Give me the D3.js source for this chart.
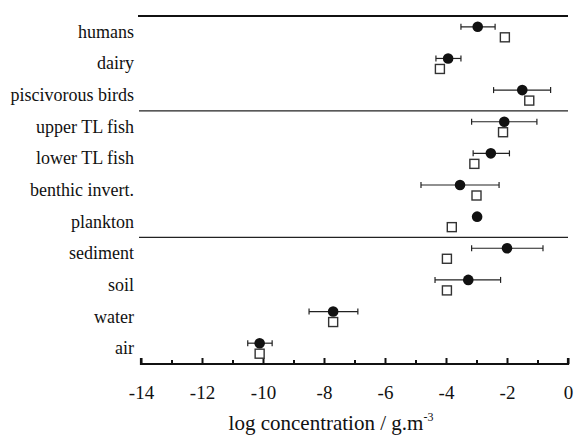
<!DOCTYPE html>
<html>
<head>
<meta charset="utf-8">
<script src="https://cdn.jsdelivr.net/npm/d3@7"></script>
<style>
  body { margin: 0; background: #fff; }
  svg text { font-family: "Liberation Serif", "Times New Roman", serif; fill: #111; }
</style>
</head>
<body>
<div id="chart"></div>
<script>
(function () {
  // rows from top to bottom
  let categories = ['humans', 'dairy', 'piscivorous birds', 'upper TL fish', 'lower TL fish',
    'benthic invert.', 'plankton', 'sediment', 'soil', 'water', 'air'];
  // measured (filled circles) with range
  let measured = [-2.96, -3.93, -1.5, -2.09, -2.53, -3.54, -2.98, -2.0, -3.27, -7.7, -10.11];
  let lowVals = [-3.51, -4.33, -2.44, -3.16, -3.11, -4.82, null, -3.16, -4.36, -8.49, -10.5];
  let highVals = [-2.39, -3.51, -0.57, -1.02, -1.92, -2.26, null, -0.82, -2.21, -6.89, -9.7];
  // modelled (open squares)
  let modelled = [-2.07, -4.2, -1.27, -2.13, -3.07, -3.0, -3.81, -3.97, -3.97, -7.7, -10.11];
  // separators after these rows
  let groupBreaks = ['piscivorous birds', 'plankton'];
  let majorTicks = d3.range(-14, 1, 2);
  let minorTicks = d3.range(-13, 0, 2);

  let width = 575,
    height = 435;

  let svg = d3.select('#chart').append('svg')
    .attr('width', width)
    .attr('height', height);

  let xScale = d3.scaleLinear()
    .domain([-14, 0])
    .range([141, 568]);

  let yScale = d3.scaleBand()
    .domain(categories)
    .range([16, 364]);

  let rows = categories.map((c, i) => ({
    name: c, mean: measured[i], lo: lowVals[i], hi: highVals[i], model: modelled[i]
  }));

  // top line
  svg.append('line')
    .attr('x1', 138).attr('x2', 568)
    .attr('y1', 16).attr('y2', 16)
    .attr('stroke', '#111').attr('stroke-width', 1.8);

  // group separators
  svg.append('g').selectAll('line.sep')
    .data(groupBreaks).enter()
    .append('line')
    .attr('class', 'sep')
    .attr('x1', 139).attr('x2', 568)
    .attr('y1', (d) => yScale(d) + yScale.bandwidth())
    .attr('y2', (d) => yScale(d) + yScale.bandwidth())
    .attr('stroke', '#222').attr('stroke-width', 1.3);

  // category labels
  svg.append('g').selectAll('text.ylabel')
    .data(categories).enter()
    .append('text')
    .attr('class', 'ylabel')
    .attr('x', 134)
    .attr('y', (d) => yScale(d) + yScale.bandwidth() / 2 + 6)
    .attr('text-anchor', 'end')
    .style('font-size', '18px')
    .text((d) => d);

  // x axis
  let minorAxis = d3.axisBottom(xScale)
    .tickValues(minorTicks)
    .tickSize(-4)
    .tickFormat('');
  let majorAxis = d3.axisBottom(xScale)
    .tickValues(majorTicks)
    .tickSize(-6)
    .tickPadding(22)
    .tickFormat((d) => String(d));

  let gMinor = svg.append('g')
    .attr('transform', 'translate(0,364)')
    .call(minorAxis);
  gMinor.select('.domain').remove();
  gMinor.selectAll('line').attr('stroke', '#111').attr('stroke-width', 2);

  let gMajor = svg.append('g')
    .attr('transform', 'translate(0,364)')
    .call(majorAxis);
  gMajor.select('.domain')
    .attr('d', 'M' + xScale(-14) + ',-6V0H' + xScale(0) + 'V-6')
    .attr('stroke', '#111').attr('stroke-width', 2.2);
  gMajor.selectAll('line').attr('stroke', '#111').attr('stroke-width', 2);
  gMajor.selectAll('text')
    .attr('font-family', null)
    .style('font-size', '19px')
    .attr('fill', '#111');

  // axis title
  let title = svg.append('text')
    .attr('x', 331)
    .attr('y', 430)
    .attr('text-anchor', 'middle')
    .style('font-size', '21px');
  title.append('tspan').text('log concentration / g.m');
  title.append('tspan')
    .attr('dy', -9)
    .style('font-size', '12px')
    .text('-3');

  // error bars
  let withRange = rows.filter((d) => d.lo !== null);
  let eb = svg.append('g').selectAll('g.err')
    .data(withRange).enter()
    .append('g')
    .attr('class', 'err')
    .attr('stroke', '#222')
    .attr('stroke-width', 1.2);
  eb.append('line')
    .attr('x1', (d) => xScale(d.lo)).attr('x2', (d) => xScale(d.hi))
    .attr('y1', (d) => yScale(d.name) + yScale.bandwidth() / 2 - 5)
    .attr('y2', (d) => yScale(d.name) + yScale.bandwidth() / 2 - 5);
  eb.append('line')
    .attr('x1', (d) => xScale(d.lo)).attr('x2', (d) => xScale(d.lo))
    .attr('y1', (d) => yScale(d.name) + yScale.bandwidth() / 2 - 8)
    .attr('y2', (d) => yScale(d.name) + yScale.bandwidth() / 2 - 2);
  eb.append('line')
    .attr('x1', (d) => xScale(d.hi)).attr('x2', (d) => xScale(d.hi))
    .attr('y1', (d) => yScale(d.name) + yScale.bandwidth() / 2 - 8)
    .attr('y2', (d) => yScale(d.name) + yScale.bandwidth() / 2 - 2);

  // modelled squares
  svg.append('g').selectAll('rect.model')
    .data(rows).enter()
    .append('rect')
    .attr('class', 'model')
    .attr('x', (d) => xScale(d.model) - 4.5)
    .attr('y', (d) => yScale(d.name) + yScale.bandwidth() / 2 + 1)
    .attr('width', 9)
    .attr('height', 9)
    .attr('fill', '#fff')
    .attr('stroke', '#333')
    .attr('stroke-width', 1.4);

  // measured circles
  svg.append('g').selectAll('circle.meas')
    .data(rows).enter()
    .append('circle')
    .attr('class', 'meas')
    .attr('cx', (d) => xScale(d.mean))
    .attr('cy', (d) => yScale(d.name) + yScale.bandwidth() / 2 - 5)
    .attr('r', 5.3)
    .attr('fill', '#111');
})();
</script>
</body>
</html>
